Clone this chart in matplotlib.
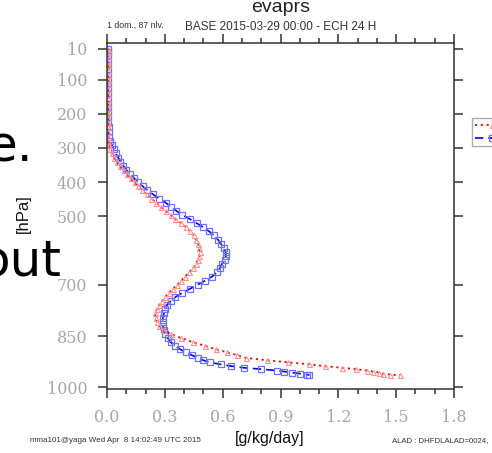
import matplotlib
matplotlib.use("Agg")
import matplotlib.pyplot as plt
from matplotlib.ticker import MultipleLocator

# model levels (hPa) and profiles
levels = [10, 20, 32, 45, 58, 72, 86, 100, 114, 128, 142, 156, 170, 184, 198,
          212, 226, 240, 254, 267, 280, 292, 304, 316, 328, 340, 352, 364, 376,
          388, 400, 412, 424, 436, 448, 460, 472, 484, 496, 508, 520, 532, 544,
          556, 568, 580, 592, 604, 616, 628, 640, 652, 664, 676, 688, 700, 712,
          724, 736, 748, 760, 772, 784, 796, 808, 820, 832, 844, 856, 868, 879,
          889, 898, 906, 914, 921, 927, 933, 938, 943, 947, 951, 954, 957, 960,
          963, 965]

red_vals = [0.003, 0.003, 0.003, 0.003, 0.003, 0.003, 0.004, 0.004, 0.004, 0.004,
            0.004, 0.004, 0.004, 0.004, 0.004, 0.004, 0.005, 0.005, 0.005, 0.005,
            0.006, 0.008, 0.015, 0.025, 0.035, 0.05, 0.068, 0.088, 0.105, 0.125,
            0.145, 0.163, 0.183, 0.205, 0.23, 0.255, 0.28, 0.305, 0.33, 0.355,
            0.385, 0.41, 0.43, 0.45, 0.462, 0.472, 0.477, 0.48, 0.478, 0.47,
            0.46, 0.445, 0.425, 0.405, 0.385, 0.365, 0.34, 0.32, 0.30, 0.285,
            0.27, 0.258, 0.25, 0.252, 0.258, 0.27, 0.29, 0.33, 0.385, 0.445,
            0.51, 0.565, 0.625, 0.675, 0.72, 0.83, 0.94, 1.05, 1.13, 1.22,
            1.29, 1.35, 1.38, 1.41, 1.43, 1.47, 1.52]

blue_vals = [0.005, 0.005, 0.005, 0.005, 0.005, 0.005, 0.005, 0.005, 0.005, 0.005,
             0.005, 0.006, 0.006, 0.006, 0.006, 0.007, 0.007, 0.008, 0.008, 0.01,
             0.015, 0.025, 0.035, 0.045, 0.058, 0.07, 0.085, 0.10, 0.12, 0.14,
             0.16, 0.185, 0.21, 0.24, 0.27, 0.305, 0.33, 0.36, 0.39, 0.43,
             0.465, 0.50, 0.53, 0.555, 0.575, 0.59, 0.605, 0.615, 0.617, 0.61,
             0.595, 0.585, 0.57, 0.545, 0.51, 0.47, 0.43, 0.39, 0.355, 0.33,
             0.31, 0.30, 0.295, 0.29, 0.29, 0.29, 0.295, 0.30, 0.315, 0.33,
             0.355, 0.38, 0.41, 0.44, 0.47, 0.50, 0.535, 0.59, 0.645, 0.71,
             0.80, 0.88, 0.92, 0.96, 1.00, 1.04, 1.05]

x_ticks = [0.0, 0.3, 0.6, 0.9, 1.2, 1.5, 1.8]
y_ticks = [10, 100, 200, 300, 400, 500, 700, 850, 1000]

W, H = 492, 453
fig = plt.figure(figsize=(W / 100, H / 100), dpi=100)
ax = fig.add_axes([107 / W, 1 - 389 / H, 347 / W, 346 / H])

blue_line, = ax.plot(blue_vals, levels, color="#0000ee", ls=(0, (5, 3)), lw=1.2,
                     marker="s", ms=4.2, mfc="none", mec="#7070ff", mew=0.9)
red_line, = ax.plot(red_vals, levels, color="#ff0000", ls=(0, (1.2, 2)), lw=1.3,
                    marker="^", ms=3.6, mfc="none", mec="#ff9090", mew=0.8)

ax.set_xlim(0, 1.8)
ax.set_ylim(1005, -7)
ax.set_xticks(x_ticks)
ax.set_xticklabels([f"{v:.1f}" for v in x_ticks])
ax.set_yticks(y_ticks)
ax.set_yticklabels([str(v) for v in y_ticks])
ax.xaxis.set_minor_locator(MultipleLocator(0.1))

for s in ax.spines.values():
    s.set_color("#333333")
    s.set_linewidth(1.1)
ax.tick_params(which="both", direction="out", top=True, right=True,
               color="#333333", width=1.1)
ax.tick_params(which="major", length=6.2, pad=8, labelsize=11.5,
               labelcolor="#a8a8a8")
ax.tick_params(which="minor", length=3.3)
for lab in ax.get_xticklabels() + ax.get_yticklabels():
    lab.set_family("DejaVu Serif")

fig.legend([red_line, blue_line], ["exp", "ref"], loc="upper left",
           bbox_to_anchor=(472 / W, 1 - 118 / H), frameon=True, fancybox=False,
           edgecolor="#999999", fontsize=6, handlelength=4.2, borderpad=0.35,
           labelspacing=0.45, borderaxespad=0)

sans = "Liberation Sans"
fig.text(281 / W, 1 - 12 / H, "evaprs", ha="center", va="baseline",
         fontsize=14, family=sans, color="#222222")
fig.text(281 / W, 1 - 29.5 / H, "BASE 2015-03-29 00:00 - ECH 24 H", ha="center",
         va="baseline", fontsize=8.5, family=sans, color="#333333")
fig.text(107 / W, 1 - 28 / H, "1 dom., 87 nlv.", ha="left", va="baseline",
         fontsize=6.3, family=sans, color="#333333")
fig.text(270 / W, 1 - 439 / H, "[g/kg/day]", ha="center", va="center",
         fontsize=11.5, family=sans, color="#111111")
fig.text(23 / W, 1 - 214 / H, "[hPa]", ha="center", va="center", rotation=90,
         fontsize=12, family=sans, color="#111111")
fig.text(30 / W, 1 - 442 / H, "mma101@yaga Wed Apr  8 14:02:49 UTC 2015",
         ha="left", va="baseline", fontsize=5.8, family=sans, color="#333333")
fig.text(392 / W, 1 - 442 / H, "ALAD : DHFDLALAD=0024,", ha="left",
         va="baseline", fontsize=5.6, family=sans, color="#333333")

# slide text that overlaps the chart on the left
fig.text(33 / W, 1 - 162 / H, "e.", ha="right", va="baseline", fontsize=36,
         family="DejaVu Sans", color="black")
fig.text(61 / W, 1 - 275 / H, "out", ha="right", va="baseline", fontsize=36,
         family="DejaVu Sans", color="black")

fig.savefig("out.png", dpi=100)
